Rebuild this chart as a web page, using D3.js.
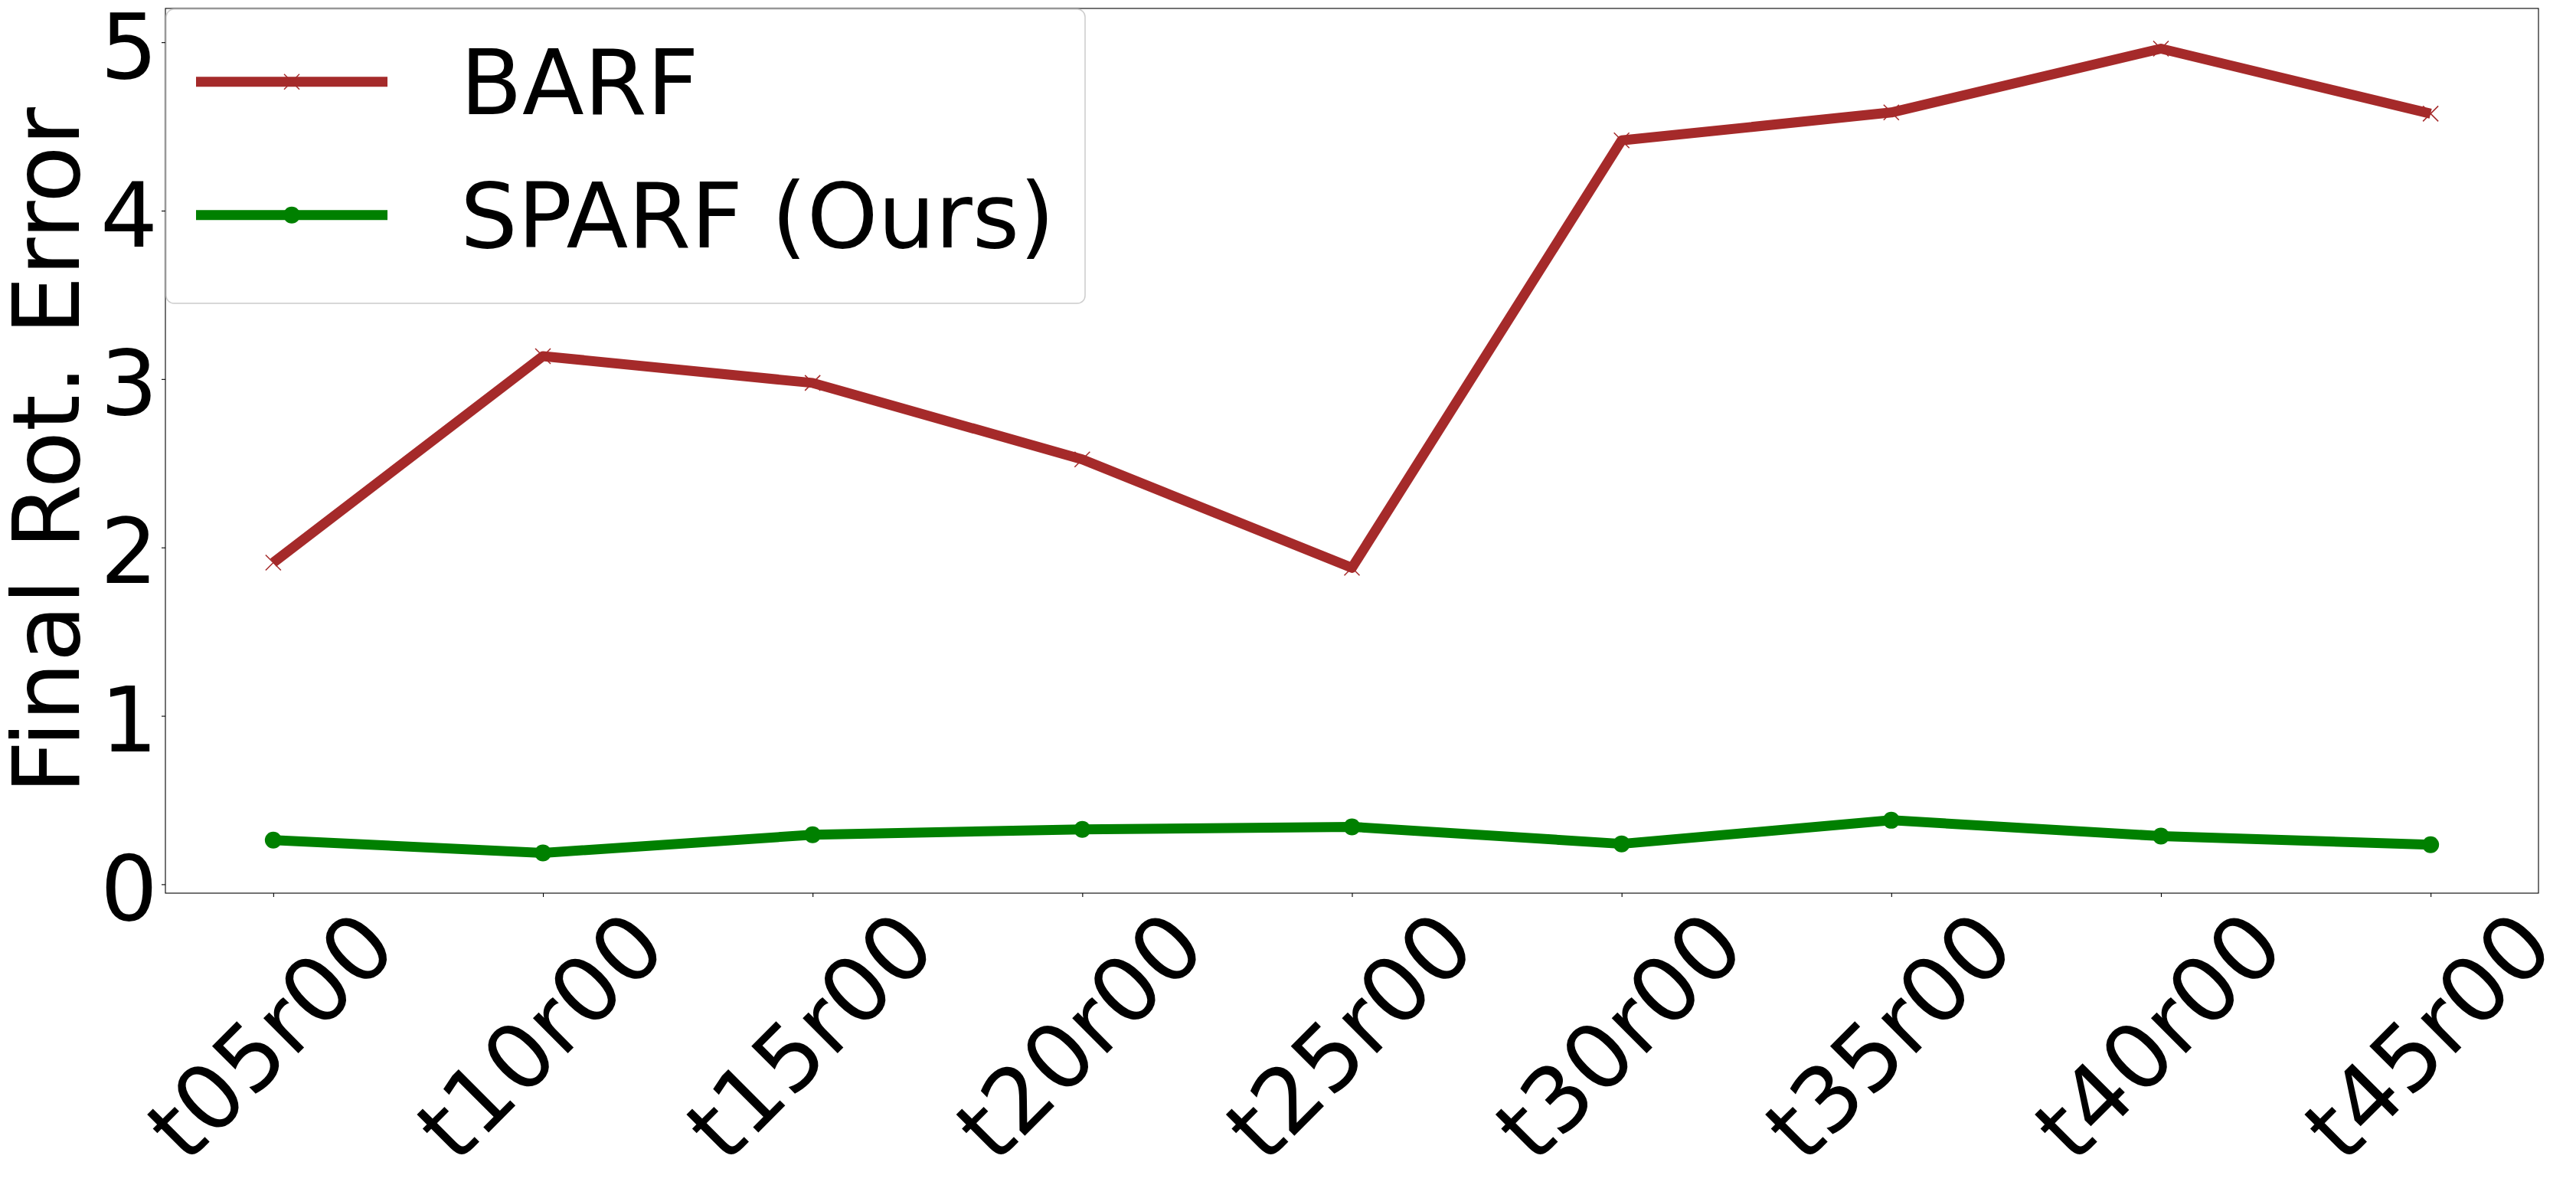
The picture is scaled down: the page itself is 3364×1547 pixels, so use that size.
<!DOCTYPE html>
<html>
<head>
<meta charset="utf-8">
<script src="https://cdn.jsdelivr.net/npm/d3@7"></script>
<style>
  html, body { margin: 0; padding: 0; background: #ffffff; }
  svg { display: block; }
  text { font-family: "DejaVu Sans", sans-serif; fill: #000; }
</style>
</head>
<body>
<svg id="chart" width="3364" height="1547"></svg>
<script>
// ---- data ----
const categories = ["t05r00", "t10r00", "t15r00", "t20r00", "t25r00", "t30r00", "t35r00", "t40r00", "t45r00"];
const barfValues  = [1.91, 3.136, 2.977, 2.523, 1.879, 4.417, 4.583, 4.962, 4.576];
const sparfValues = [0.262, 0.186, 0.294, 0.326, 0.341, 0.240, 0.380, 0.286, 0.235];
const yTickValues = [0, 1, 2, 3, 4, 5];
const seriesNames = ["BARF", "SPARF (Ours)"];
const yAxisLabel = "Final Rot. Error";

// ---- layout ----
const W = 3364, H = 1547;
const plot = { left: 216, right: 3315, top: 11, bottom: 1166 };
const colBarf = "#a52a2a", colSparf = "#008000";
const lineW = 13;

const svg = d3.select("#chart");
svg.append("rect").attr("width", W).attr("height", H).attr("fill", "#fff");

const x = d3.scalePoint().domain(categories).range([plot.left, plot.right]).padding(0.4);

const allVals = barfValues.concat(sparfValues);
const vmin = d3.min(allVals), vmax = d3.max(allVals);
const marg = (vmax - vmin) * 0.05;
const y = d3.scaleLinear().domain([vmin - marg, vmax + marg]).range([plot.bottom, plot.top]);

// ---- axes ----
const yAxis = svg.append("g")
  .attr("transform", `translate(${plot.left},0)`)
  .call(d3.axisLeft(y).tickValues(yTickValues).tickFormat(d3.format("d")).tickSize(5).tickPadding(5));
yAxis.select(".domain").remove();
yAxis.selectAll(".tick line").attr("stroke", "#000").attr("stroke-width", 1.1);
yAxis.selectAll(".tick text")
  .attr("font-size", 118).attr("font-family", "DejaVu Sans")
  .attr("dy", "0.39em").attr("fill", "#000");

const xAxis = svg.append("g")
  .attr("transform", `translate(0,${plot.bottom})`)
  .call(d3.axisBottom(x).tickSize(5));
xAxis.select(".domain").remove();
xAxis.selectAll(".tick line").attr("stroke", "#000").attr("stroke-width", 1.1);
xAxis.selectAll(".tick text")
  .attr("font-size", 118).attr("font-family", "DejaVu Sans").attr("fill", "#000")
  .attr("y", 0).attr("dy", 0)
  .attr("text-anchor", "end")
  .attr("transform", "translate(165,76) rotate(-45)");

// ---- lines ----
const line = d3.line().x((d, i) => x(categories[i])).y(d => y(d));

svg.append("path").datum(barfValues)
  .attr("d", line).attr("fill", "none")
  .attr("stroke", colBarf).attr("stroke-width", lineW)
  .attr("stroke-linejoin", "round").attr("stroke-linecap", "butt");

const xm = 10;
svg.append("g").selectAll("path").data(barfValues).join("path")
  .attr("d", (d, i) => {
    const cx = x(categories[i]), cy = y(d);
    return `M${cx - xm},${cy - xm}L${cx + xm},${cy + xm}M${cx - xm},${cy + xm}L${cx + xm},${cy - xm}`;
  })
  .attr("stroke", colBarf).attr("stroke-width", 1.5).attr("fill", "none");

svg.append("path").datum(sparfValues)
  .attr("d", line).attr("fill", "none")
  .attr("stroke", colSparf).attr("stroke-width", lineW)
  .attr("stroke-linejoin", "round").attr("stroke-linecap", "butt");

svg.append("g").selectAll("circle").data(sparfValues).join("circle")
  .attr("cx", (d, i) => x(categories[i])).attr("cy", d => y(d))
  .attr("r", 11).attr("fill", colSparf);

// ---- frame ----
svg.append("rect")
  .attr("x", plot.left).attr("y", plot.top)
  .attr("width", plot.right - plot.left).attr("height", plot.bottom - plot.top)
  .attr("fill", "none").attr("stroke", "#000").attr("stroke-width", 1.1);

// ---- y label ----
svg.append("text")
  .attr("transform", `translate(103,${(plot.top + plot.bottom) / 2}) rotate(-90)`)
  .attr("text-anchor", "middle")
  .attr("font-size", 122)
  .text(yAxisLabel);

// ---- legend ----
const lg = svg.append("g");
lg.append("rect")
  .attr("x", 217).attr("y", 12).attr("width", 1200).attr("height", 384)
  .attr("rx", 10).attr("ry", 10)
  .attr("fill", "#fff").attr("fill-opacity", 0.8)
  .attr("stroke", "#cccccc").attr("stroke-width", 1.5);

const legendRows = [
  { name: seriesNames[0], color: colBarf, marker: "x", ly: 106.7, ty: 149 },
  { name: seriesNames[1], color: colSparf, marker: "o", ly: 280.7, ty: 323 }
];
legendRows.forEach(r => {
  lg.append("line").attr("x1", 256).attr("x2", 506).attr("y1", r.ly).attr("y2", r.ly)
    .attr("stroke", r.color).attr("stroke-width", lineW);
  if (r.marker === "x") {
    lg.append("path")
      .attr("d", `M${381 - xm},${r.ly - xm}L${381 + xm},${r.ly + xm}M${381 - xm},${r.ly + xm}L${381 + xm},${r.ly - xm}`)
      .attr("stroke", r.color).attr("stroke-width", 1.5);
  } else {
    lg.append("circle").attr("cx", 381).attr("cy", r.ly).attr("r", 11).attr("fill", r.color);
  }
  lg.append("text").attr("x", 601).attr("y", r.ty).attr("font-size", 118).text(r.name);
});
</script>
</body>
</html>
